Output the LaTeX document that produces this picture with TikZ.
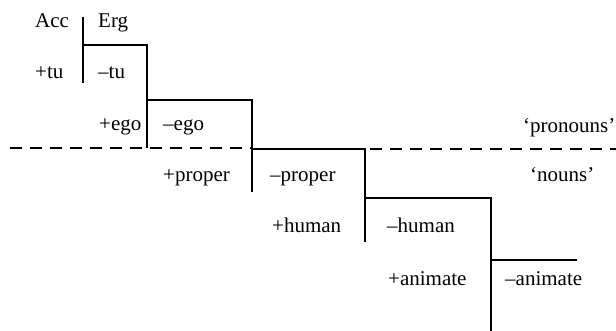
\documentclass[tikz,border=0pt]{standalone}
\usepackage{fontspec}
\setmainfont{Liberation Serif}
\begin{document}
\begin{tikzpicture}[x=1pt,y=-1pt,
  ln/.style={line width=1.6pt},
  dsh/.style={line width=1.6pt,dash pattern=on 12pt off 8pt},
  lbl/.style={anchor=base west,inner sep=0pt,font=\fontsize{21}{24}\selectfont}]
\useasboundingbox (0,0) rectangle (616,331);
% labels
\node[lbl] (acc) at (35,28) {Acc};
\node[lbl] (erg) at (98,28) {Erg};
\node[lbl] (ptu) at (35,79) {+tu};
\node[lbl] (mtu) at (98,79) {--tu};
\node[lbl] (pego) at (99,131) {+ego};
\node[lbl] (mego) at (163,131) {--ego};
\node[lbl] (pron) at (523,133) {`pronouns'};
\node[lbl] (pprop) at (163,182) {+proper};
\node[lbl] (mprop) at (270,182) {--proper};
\node[lbl] (nouns) at (530,182) {`nouns'};
\node[lbl] (phum) at (272,233) {+human};
\node[lbl] (mhum) at (387,233) {--human};
\node[lbl] (pani) at (388,285) {+animate};
\node[lbl] (mani) at (505,285) {--animate};
% lines
\draw[ln] (83,17) -- (83,83);
\draw[ln] (83,45) -- (147,45) -- (147,148);
\draw[ln] (147,100) -- (252,100) -- (252,192);
\draw[ln] (252,149) -- (365,149) -- (365,242);
\draw[ln] (365,198) -- (491,198) -- (491,331);
\draw[ln] (491,260) -- (577,260);
\draw[dsh] (10,148) -- (252,148);
\draw[dsh] (370,149) -- (616,149);
\end{tikzpicture}
\end{document}
